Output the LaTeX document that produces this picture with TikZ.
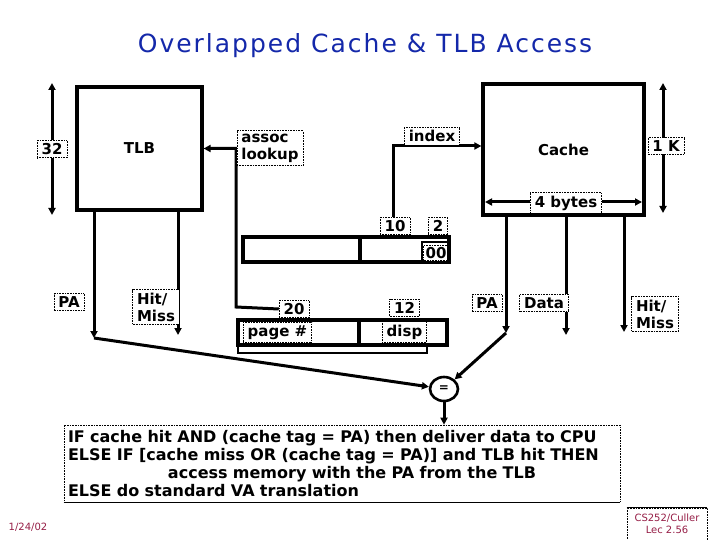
\documentclass[tikz,border=0pt]{standalone}
\usepackage{fontspec}
\setmainfont{DejaVu Sans}
\usetikzlibrary{arrows.meta,shapes.geometric,calc}
\definecolor{titleblue}{RGB}{20,40,170}
\definecolor{datered}{RGB}{150,30,70}
\begin{document}
\begin{tikzpicture}[x=1pt,y=-1pt,
  bigbox/.style={draw, line width=3.2pt, rectangle, inner sep=0pt, font=\bfseries\fontsize{15}{17}\selectfont},
  regbox/.style={draw, line width=3.2pt, rectangle, inner sep=0pt, minimum height=25pt},
  lbl/.style={draw, densely dotted, line width=0.6pt, fill=white, inner xsep=4.5pt, inner ysep=3pt, font=\bfseries\fontsize{15}{17}\selectfont, align=left},
  arr/.style={line width=3pt, -{Triangle[length=7pt,width=7pt]}},
  darr/.style={line width=3pt, {Triangle[length=7pt,width=7pt]}-{Triangle[length=7pt,width=7pt]}},
]
\useasboundingbox[fill=white] (0,0) rectangle (720,540);

% title
\node[font=\fontsize{25}{28}\selectfont\addfontfeature{LetterSpace=8}, text=titleblue] (title) at (365,46) {Overlapped Cache \& TLB Access};

% TLB
\node[bigbox, minimum width=125pt, minimum height=123pt] (tlb) at (139.5,148.5) {TLB};
\coordinate (t32) at (52,83);
\coordinate (b32) at (52,215);
\draw[darr] (t32) -- (b32);
\node[lbl] (n32) at (52,149) {32};

% Cache
\node[bigbox, minimum width=161pt, minimum height=131pt] (cache) at (563.5,149.5) {Cache};
\coordinate (t1k) at (663,83);
\coordinate (b1k) at (663,213);
\draw[darr] (t1k) -- (b1k);
\node[lbl] (n1k) at (666,146) {1 K};
\coordinate (bl) at (485,202);
\coordinate (br) at (642,202);
\draw[darr] (bl) -- (br);
\node[lbl] (n4b) at (566,203) {4 bytes};

% upper register
\node[regbox, minimum width=117pt] (uhi) at (301.5,249.5) {};
\node[regbox, minimum width=89pt] (ulo) at (404.5,249.5) {};
\node[lbl, inner xsep=2pt, inner ysep=2pt] (n00) at (436,253) {00};
\coordinate (k1) at (422,262);
\coordinate (k2) at (422,242);
\coordinate (k3) at (448,242);
\coordinate (k4) at (448,262);
\draw[line width=2pt] (k1) -- (k2) -- (k3) -- (k4);
\node[lbl] (n10) at (395,226) {10};
\node[lbl] (n2) at (438,226) {2};
\coordinate (ix) at (393,146);
\draw[arr] (ix |- n10.north) -- (ix) -- (cache.west |- ix);
\node[lbl] (nindex) at (432,136) {index};

% lower register
\node[regbox, minimum width=121pt] (lhi) at (298.5,332.5) {};
\node[regbox, minimum width=88pt] (llo) at (403,332.5) {};
\node[lbl] (npage) at (277.5,332.5) {page \#};
\node[lbl] (ndisp) at (404.5,332) {disp};
\node[lbl] (n20) at (294,309) {20};
\node[lbl] (n12) at (404.5,308) {12};
\coordinate (q1) at (238,347);
\coordinate (q2) at (238,353);
\coordinate (q3) at (427,353);
\coordinate (q4) at (427,345);
\draw[line width=2.6pt] (q1) -- (q2) -- (q3) -- (q4);

% assoc lookup
\coordinate (al) at (236,307);
\draw[arr] (n20.west) -- (al) |- (tlb.east);
\node[lbl] (nassoc) at (270,148) {assoc\\lookup};

% TLB outputs
\coordinate (tpa) at (94,338);
\coordinate (thm) at (178,335);
\draw[arr] (tlb.south -| tpa) -- (tpa);
\draw[arr] (tlb.south -| thm) -- (thm);
\node[lbl] (npa1) at (69,302) {PA};
\node[lbl] (nhm1) at (156,307) {Hit/\\Miss};

% Cache outputs
\coordinate (cpa) at (506,333);
\coordinate (cdata) at (566,335);
\coordinate (chm) at (624,332);
\draw[arr] (cache.south -| cpa) -- (cpa);
\draw[arr] (cache.south -| cdata) -- (cdata);
\draw[arr] (cache.south -| chm) -- (chm);
\node[lbl] (npa2) at (487,303) {PA};
\node[lbl] (ndata) at (544,303) {Data};
\node[lbl] (nhm2) at (655,314) {Hit/\\Miss};

% compare
\node[draw, ellipse, line width=2.6pt, minimum width=28pt, minimum height=24pt, inner sep=0pt, font=\bfseries\fontsize{12}{12}\selectfont] (eq) at (444,389) {=};
\draw[arr] (tpa) -- (eq);
\draw[arr] (cpa) -- (eq);

% text box
\node[draw, densely dotted, line width=0.6pt, minimum width=556pt, minimum height=77pt, text width=548pt, inner sep=3pt, align=left, font=\bfseries\fontsize{16}{18}\selectfont] (tb) at (342,463.5)
{IF cache hit AND (cache tag = PA) then deliver data to CPU\\
ELSE IF [cache miss OR (cache tag = PA)] and TLB hit THEN\\
\makebox[548pt]{\hspace{20pt}access memory with the PA from the TLB}\\
ELSE do standard VA translation};
\draw[line width=1.4pt] (tb.south west) -- (tb.south east);
\draw[arr] (eq) -- (eq |- tb.north);

% footer
\node[text=datered, font=\fontsize{10}{12}\selectfont] (date) at (28,527) {1/24/02};
\node[text=datered, font=\fontsize{10}{12}\selectfont, align=center, draw=black, densely dotted, line width=0.6pt, minimum width=80pt, minimum height=32pt] (cs) at (667,524) {CS252/Culler\\Lec 2.56};
\draw[line width=1.4pt] (cs.north west) -- (cs.north east);
\end{tikzpicture}
\end{document}
